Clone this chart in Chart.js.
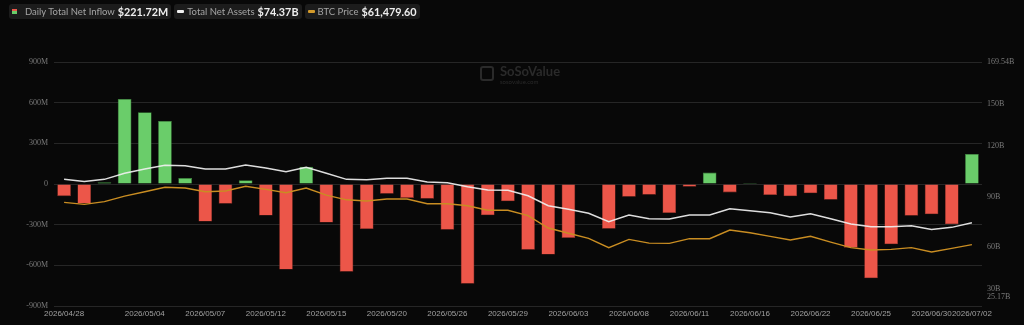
<!DOCTYPE html>
<html>
<head>
<meta charset="utf-8">
<script src="https://cdn.jsdelivr.net/npm/chart.js@4.4.1/dist/chart.umd.min.js"></script>
<style>
  html, body { margin: 0; padding: 0; background: #080808; }
  #wrap { position: relative; width: 1024px; height: 325px; overflow: hidden; }
  #legend { position: absolute; top: 4px; left: 9px; display: flex; gap: 3px; font-family: Lato, "Noto Sans", sans-serif; }
  .pill { display: flex; align-items: center; height: 15px; background: #1c1c1c; border-radius: 3px; padding: 0 3px 0 3px; }
  .pill .lbl { color: #a5a5a5; font-size: 9.5px; margin-right: 3px; }
  .pill .val { color: #eeeeee; font-size: 10.8px; font-weight: bold; }
  .ic-bar { width: 5px; height: 5px; margin: 0 8px 0 0; background: linear-gradient(#e8574a 50%, #6acd6a 50%); }
  .ic-line { width: 7px; height: 3px; border-radius: 1px; margin-right: 3px; }
  #mark { position: absolute; left: 480px; top: 64px; color: #2a2a2a; font-family: Lato, sans-serif; }
  #mark .t { font-size: 13px; font-weight: bold; margin-left: 20px; line-height: 14px; }
  #mark .s { font-size: 6px; margin-left: 20px; }
  #mark .logo { position: absolute; left: 0; top: 2px; width: 14px; height: 15px; border: 2px solid #2a2a2a; border-radius: 3px; box-sizing: border-box; }
  canvas { position: absolute; left: 0; top: 0; }
</style>
</head>
<body>
<div id="wrap">
  <canvas id="chart" width="1024" height="325"></canvas>
  <div id="mark"><div class="logo"></div><div class="t">SoSoValue</div><div class="s">sosovalue.com</div></div>
  <div id="legend">
    <div class="pill"><span class="ic-bar"></span><span class="lbl">Daily Total Net Inflow</span><span class="val">$221.72M</span></div>
    <div class="pill"><span class="ic-line" style="background:#f0f0f0"></span><span class="lbl">Total Net Assets</span><span class="val">$74.37B</span></div>
    <div class="pill"><span class="ic-line" style="background:#d39a2a"></span><span class="lbl">BTC Price</span><span class="val">$61,479.60</span></div>
  </div>
</div>
<script>
// --- DATA ---
const dates = [
  "2026/04/28", "2026/04/29", "2026/04/30", "2026/05/01", "2026/05/04", "2026/05/05",
  "2026/05/06", "2026/05/07", "2026/05/08", "2026/05/11", "2026/05/12", "2026/05/13",
  "2026/05/14", "2026/05/15", "2026/05/18", "2026/05/19", "2026/05/20", "2026/05/21",
  "2026/05/22", "2026/05/26", "2026/05/27", "2026/05/28", "2026/05/29", "2026/06/01",
  "2026/06/02", "2026/06/03", "2026/06/04", "2026/06/05", "2026/06/08", "2026/06/09",
  "2026/06/10", "2026/06/11", "2026/06/12", "2026/06/15", "2026/06/16", "2026/06/17",
  "2026/06/18", "2026/06/22", "2026/06/23", "2026/06/24", "2026/06/25", "2026/06/26",
  "2026/06/29", "2026/06/30", "2026/07/01", "2026/07/02",
];

// labels actually printed under the axis
const shownDates = [
  "2026/04/28", "2026/05/04", "2026/05/07", "2026/05/12", "2026/05/15", "2026/05/20",
  "2026/05/26", "2026/05/29", "2026/06/03", "2026/06/08", "2026/06/11", "2026/06/16",
  "2026/06/22", "2026/06/25", "2026/06/30", "2026/07/02",
];

// daily total net inflow, millions USD
const netInflow = [
  -90, -144, 12, 627, 529, 465, 44, -277, -145, 27, -233, -631, 128, -284, -647, -332,
  -72, -103, -108, -337, -735, -231, -128, -485, -521, -398, 3, -330, -94, -79, -214,
  -20, 84, -62, 8, -81, -91, -69, -116, -470, -696, -445, -234, -224, -297, 221.72,
];

// total net assets, billions USD
const netAssets = [
  100.1, 98.9, 100.1, 103.7, 106.2, 108.4, 108.2, 106.2, 106.2, 108.6, 106.8, 104.6,
  107.2, 103.7, 100.1, 99.9, 100.7, 100.7, 98.5, 98.1, 95.7, 93.8, 93.6, 90.4, 84.5,
  82.4, 80.0, 75.0, 79.0, 76.8, 76.7, 79.0, 79.0, 82.7, 81.5, 80.4, 77.8, 79.8, 76.8,
  73.7, 72.1, 72.1, 72.7, 70.5, 71.7, 74.37,
];

// BTC price, thousands USD (shares the right axis)
const btcPriceK = [
  86.5, 85.3, 86.9, 90.2, 92.8, 95.4, 95.0, 92.8, 93.2, 96.0, 94.2, 92.2, 95.0, 90.8,
  88.0, 87.3, 88.5, 88.5, 85.7, 85.7, 84.5, 81.8, 81.8, 78.6, 71.3, 68.2, 65.2, 59.7,
  64.6, 62.4, 62.2, 65.0, 65.0, 70.1, 68.5, 66.4, 64.2, 66.4, 63.0, 59.7, 58.3, 58.7,
  59.7, 57.1, 59.3, 61.4796,
];

const leftTicks = [-900, -600, -300, 0, 300, 600, 900];
const rightTicks = [25.17, 30, 60, 90, 120, 150, 169.54];

// --- CHART ---
const GREEN = "#6acd6a";
const RED = "#ec5649";
const AXIS_FONT = { family: "'Liberation Serif', 'DejaVu Serif', serif", size: 8 };

function fmtM(v) {
  return v === 0 ? "0" : v + "M";
}

// right axis labels drawn by hand so crowded ones can be nudged like the original
const rightLabels = {
  id: "rightLabels",
  afterDraw(chart) {
    const s = chart.scales.yR;
    const ctx = chart.ctx;
    const nudge = { 150: 9, 30: -9, 25.17: -9 };
    ctx.save();
    ctx.font = "8px 'Liberation Serif', 'DejaVu Serif', serif";
    ctx.fillStyle = "#7a7a7a";
    ctx.textAlign = "left";
    ctx.textBaseline = "middle";
    rightTicks.forEach((v) => {
      const y = s.getPixelForValue(v) + (nudge[v] || 0);
      ctx.fillText(v + "B", s.left + 5, y);
    });
    ctx.restore();
  },
};

new Chart(document.getElementById("chart"), {
  type: "bar",
  data: {
    labels: dates,
    datasets: [
      {
        label: "Total Net Assets",
        type: "line",
        data: netAssets,
        yAxisID: "yR",
        borderColor: "rgba(240,240,240,0.92)",
        borderWidth: 1.5,
        pointRadius: 0,
        tension: 0,
        order: 0,
      },
      {
        label: "BTC Price",
        type: "line",
        data: btcPriceK,
        yAxisID: "yR",
        borderColor: "#c98d22",
        borderWidth: 1.4,
        pointRadius: 0,
        tension: 0,
        order: 0,
      },
      {
        label: "Daily Total Net Inflow",
        data: netInflow,
        yAxisID: "yL",
        backgroundColor: netInflow.map((v) => (v >= 0 ? GREEN : RED)),
        borderColor: netInflow.map((v) => (v >= 0 ? "#3f8a3f" : "#8e2f27")),
        borderWidth: 0.6,
        barPercentage: 0.68,
        categoryPercentage: 1,
        order: 1,
      },
    ],
  },
  options: {
    responsive: false,
    animation: false,
    devicePixelRatio: 1,
    layout: { padding: { top: 62, left: 0, right: 0, bottom: 0 } },
    plugins: { legend: { display: false }, tooltip: { enabled: false } },
    scales: {
      x: {
        grid: { display: false, drawTicks: false },
        border: { display: false },
        afterFit: (s) => { s.height = 19; },
        ticks: {
          autoSkip: false,
          maxRotation: 0,
          padding: 3,
          color: "#a0a0a0",
          font: { family: "'Liberation Sans', Arial, sans-serif", size: 8 },
          callback: function (val) {
            const d = this.getLabelForValue(val);
            return shownDates.includes(d) ? d : "";
          },
        },
      },
      yL: {
        position: "left",
        min: -900,
        max: 900,
        afterFit: (s) => { s.width = 54; },
        afterBuildTicks: (s) => { s.ticks = leftTicks.map((v) => ({ value: v })); },
        grid: { color: "#262626", lineWidth: 1, drawTicks: false },
        border: { display: false },
        ticks: { padding: 6, color: "#7a7a7a", font: AXIS_FONT, callback: fmtM },
      },
      yR: {
        position: "right",
        min: 25.17,
        max: 169.54,
        afterFit: (s) => { s.width = 42; },
        afterBuildTicks: (s) => { s.ticks = rightTicks.map((v) => ({ value: v })); },
        grid: { display: false, drawTicks: false },
        border: { display: false },
        ticks: { display: false },
      },
    },
  },
  plugins: [rightLabels],
});
</script>
</body>
</html>
